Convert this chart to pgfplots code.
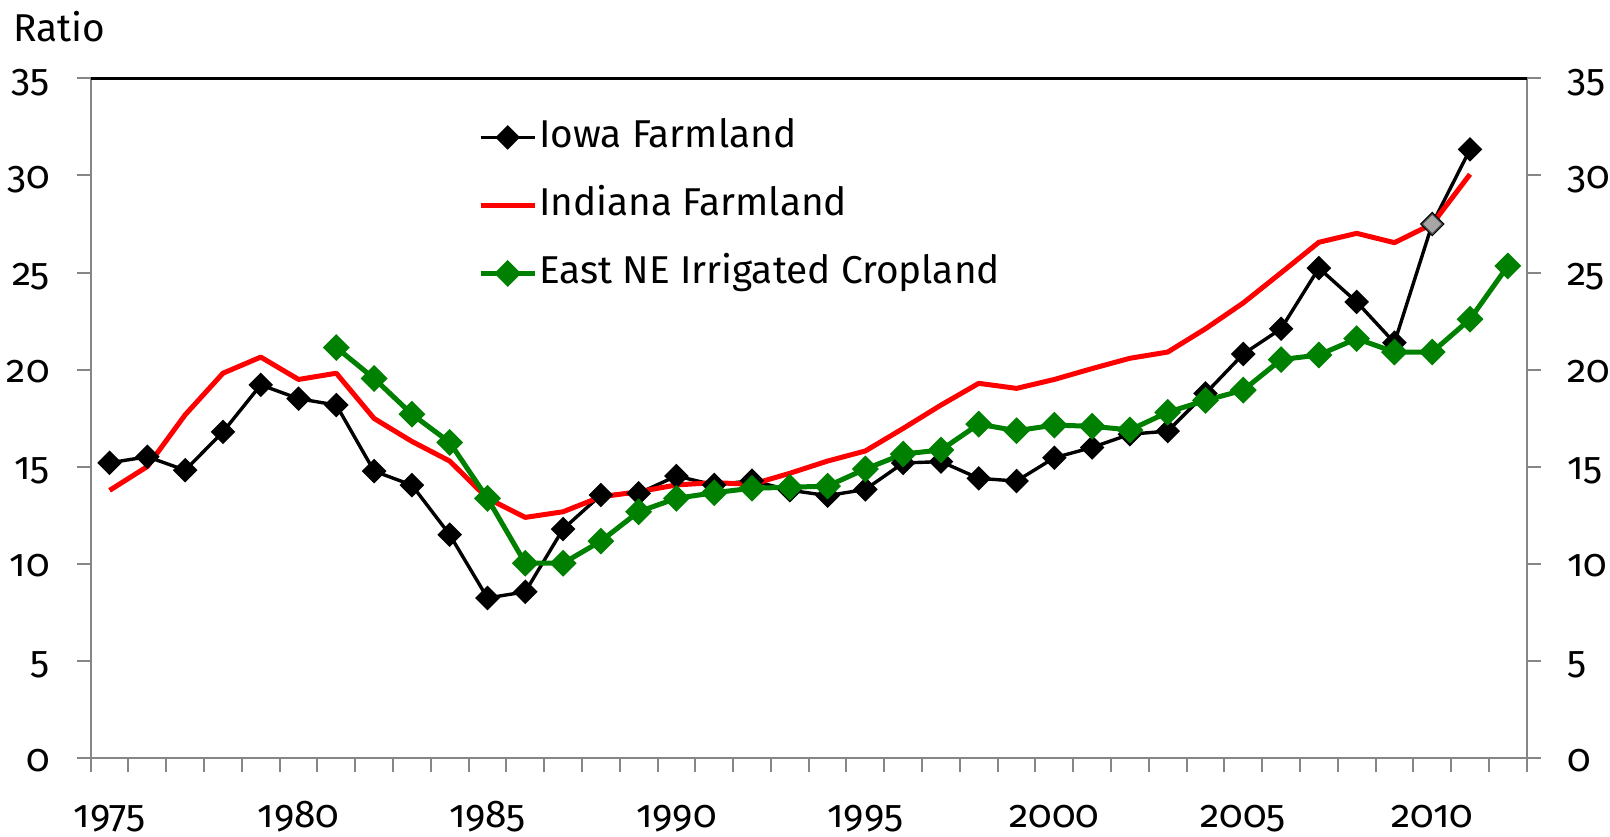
\documentclass[border=0pt]{standalone}
\usepackage{pgfplots}
\pgfplotsset{compat=1.18}
\usepackage{pgfplotstable}
\usepackage{fontspec}
\setmainfont{Fira Sans}[Numbers=OldStyle]
\definecolor{axgray}{RGB}{134,134,134}
\definecolor{negreen}{RGB}{0,128,0}

\pgfplotstableread{
year val
1975 15.21
1976 15.52
1977 14.83
1978 16.80
1979 19.22
1980 18.51
1981 18.18
1982 14.78
1983 14.06
1984 11.51
1985 8.25
1986 8.57
1987 11.80
1988 13.55
1989 13.64
1990 14.53
1991 14.07
1992 14.29
1993 13.80
1994 13.52
1995 13.84
1996 15.20
1997 15.27
1998 14.41
1999 14.27
2000 15.47
2001 16.00
2002 16.68
2003 16.84
2004 18.78
2005 20.81
2006 22.11
2007 25.23
2008 23.49
2009 21.39
2010 27.50
2011 31.34
}\iowa

\pgfplotstableread{
year val
1975 13.79
1976 15.02
1977 17.68
1978 19.82
1979 20.65
1980 19.50
1981 19.82
1982 17.49
1983 16.31
1984 15.30
1985 13.38
1986 12.40
1987 12.69
1988 13.46
1989 13.72
1990 14.07
1991 14.19
1992 14.10
1993 14.67
1994 15.30
1995 15.82
1996 16.98
1997 18.18
1998 19.30
1999 19.04
2000 19.50
2001 20.06
2002 20.59
2003 20.91
2004 22.11
2005 23.44
2006 24.99
2007 26.56
2008 27.02
2009 26.54
2010 27.50
2011 30.06
}\indiana

\pgfplotstableread{
year val
1981 21.14
1982 19.55
1983 17.71
1984 16.26
1985 13.38
1986 10.04
1987 10.04
1988 11.18
1989 12.69
1990 13.38
1991 13.67
1992 13.90
1993 13.95
1994 14.01
1995 14.89
1996 15.66
1997 15.87
1998 17.20
1999 16.86
2000 17.15
2001 17.09
2002 16.90
2003 17.81
2004 18.42
2005 18.95
2006 20.52
2007 20.76
2008 21.60
2009 20.91
2010 20.91
2011 22.60
2012 25.34
}\eastne

\begin{document}
\begin{tikzpicture}[font=\fontsize{19.4}{23}\selectfont]
\begin{axis}[
  at={(0,0)}, anchor=south west,
  scale only axis, width=718pt, height=340pt,
  xmin=1974.5, xmax=2012.5, ymin=0, ymax=35,
  clip=false,
  axis line style={draw=none},
  xtick={1975,1980,...,2010},
  minor xtick={1974.5,1975.5,...,2012.5},
  ytick={0,5,...,35},
  minor ytick={0,5,...,35},
  major tick length=0pt, minor tick length=7pt,
  tick align=outside,
  xtick pos=bottom, ytick pos=both,
  yticklabel pos=left,
  minor tick style={axgray, line width=1pt},
  /pgf/number format/1000 sep={},
  /pgf/number format/assume math mode=true,
  xticklabel style={anchor=base, inner sep=0pt, yshift=-34.7pt},
  yticklabel style={anchor=base east, inner sep=0pt, xshift=-20.35pt, yshift=-6.35pt},
  legend cell align=left,
  legend style={draw=none, fill=none, at={(0.2654,0.9460)}, anchor=north west,
    row sep=16pt, column sep=1pt,
    nodes={inner sep=0pt, text height=14pt, text depth=4pt},
    font=\fontsize{19.4}{23}\selectfont},
  legend image code/.code={\draw[mark repeat=2,mark phase=2,#1] plot coordinates {(0pt,0pt)(13.5pt,0pt)(27pt,0pt)};},
]
\addplot[black, line width=1.7pt, mark=square*, mark size=3.5pt, mark options={rotate=45, solid, fill=black}] table[x=year,y=val]{\iowa};
\addlegendentry{Iowa Farmland}
\addplot[only marks, mark=square*, mark size=3.5pt, mark options={rotate=45, fill=gray!70, draw=black!70, line width=0.6pt}, forget plot] coordinates {(2010,27.50)};
\addplot[red, line width=2.5pt, line join=round, no marks] table[x=year,y=val]{\indiana};
\addlegendentry{Indiana Farmland}
\addplot[negreen, line width=2.5pt, mark=square*, mark size=3.5pt, mark options={rotate=45, solid, fill=negreen}] table[x=year,y=val]{\eastne};
\addlegendentry{East NE Irrigated Cropland}
\draw[axgray, line width=1pt] (rel axis cs:0,1) -- (rel axis cs:0,0) -- (rel axis cs:1,0) -- (rel axis cs:1,1);
\draw[black, line width=1.2pt] (rel axis cs:0,1) -- (rel axis cs:1,1);
\node[anchor=base west, inner sep=0pt] at ([xshift=-39pt, yshift=18.3pt]rel axis cs:0,1) {Ratio};
\end{axis}
\begin{axis}[
  at={(0,0)}, anchor=south west,
  scale only axis, width=718pt, height=340pt,
  xmin=1974.5, xmax=2012.5, ymin=0, ymax=35,
  axis line style={draw=none},
  xtick=\empty,
  ytick={0,5,...,35},
  major tick length=0pt,
  ytick pos=right, yticklabel pos=right,
  /pgf/number format/assume math mode=true,
  yticklabel style={anchor=base west, inner sep=0pt, xshift=20.15pt, yshift=-6.35pt},
]
\end{axis}
\pgfresetboundingbox
\path (-45.35pt,-38.85pt) rectangle (759.65pt,379.15pt);
\end{tikzpicture}
\end{document}
